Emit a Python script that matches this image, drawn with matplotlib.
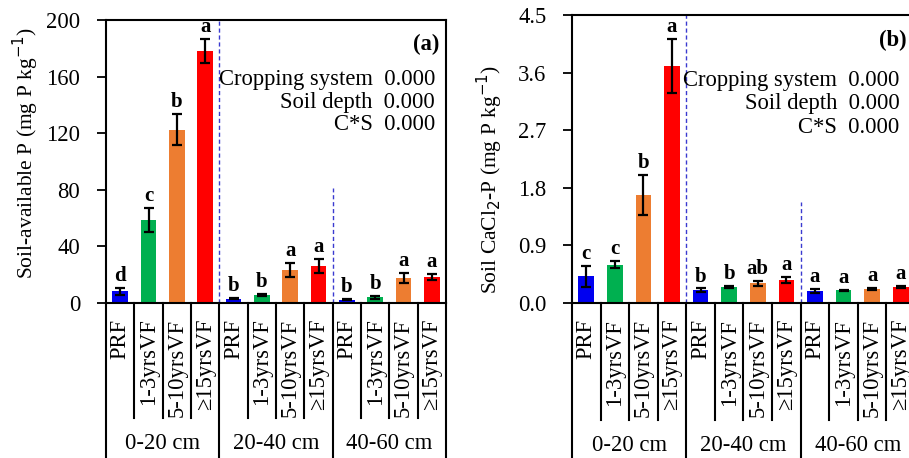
import matplotlib.pyplot as plt
import numpy as np

plt.rcParams['font.family'] = ['Liberation Serif', 'DejaVu Serif']

cultivars = ['PRF', '1-3yrsVF', '5-10yrsVF', '≥15yrsVF']
depths = ['0-20 cm', '20-40 cm', '40-60 cm']
bar_colors = ['#0000F0', '#00B050', '#ED7D31', '#FF0000']

# panel (a): soil-available P
avail_p = [8.2, 58.4, 122.4, 178.0,
           3.0, 5.6, 23.5, 25.9,
           2.4, 4.0, 17.6, 18.4]
avail_p_err = [2.2, 8.4, 11.0, 8.6,
               0.5, 1.0, 5.0, 5.0,
               0.5, 1.0, 3.6, 2.0]
avail_p_letters = ['d', 'c', 'b', 'a', 'b', 'b', 'a', 'a', 'b', 'b', 'a', 'a']

# panel (b): CaCl2-P
cacl2_p = [0.415, 0.60, 1.69, 3.705,
           0.197, 0.25, 0.31, 0.36,
           0.19, 0.197, 0.218, 0.25]
cacl2_p_err = [0.165, 0.06, 0.31, 0.42,
               0.03, 0.01, 0.04, 0.04,
               0.03, 0.01, 0.02, 0.02]
cacl2_p_letters = ['c', 'c', 'b', 'a', 'b', 'b', 'ab', 'a', 'a', 'a', 'a', 'a']

stats_names = ['Cropping system', 'Soil depth', 'C*S']
stats_p = ['0.000', '0.000', '0.000']

FS = 16.3


def panel(ax, vals, errs, letters, ymax, yticks, ylabel, tag, dash2_top, letter_pad,
          tag_pos, stats_x, stats_y0, ylab_xy):
    x = np.arange(len(vals))
    cols = bar_colors * len(depths)
    ax.bar(x, vals, width=0.55, color=cols, zorder=2)
    ax.errorbar(x, vals, yerr=errs, fmt='none', ecolor='black', elinewidth=1.6,
                capsize=3.5, capthick=1.6, zorder=3)
    for xi, v, e, l in zip(x, vals, errs, letters):
        ax.text(xi, v + e + letter_pad, l, ha='center', va='bottom',
                fontsize=15, fontweight='bold')

    ax.set_xlim(-0.5, len(vals) - 0.5)
    ax.set_ylim(0, ymax)
    ax.set_yticks(yticks)
    ax.set_yticklabels(['%g' % t if ymax > 10 else '%.1f' % t for t in yticks])
    ax.set_xticks([])
    ax.tick_params(axis='y', direction='out', length=6.5, width=1.3, labelsize=FS, pad=12)
    for s in ax.spines.values():
        s.set_linewidth(1.5)
    ax.set_ylabel(ylabel, fontsize=15.5)
    ax.yaxis.set_label_coords(*ylab_xy)

    # dashed separators between depths
    ax.axvline(3.5, color='#3a3ad0', lw=1, ls=(0, (3, 2)), zorder=1)
    ax.plot([7.5, 7.5], [0, dash2_top], color='#3a3ad0', lw=1, ls=(0, (3, 2)), zorder=1)

    # category labels under the axis
    tr = ax.get_xaxis_transform()
    for i in range(len(vals)):
        ax.text(i, -0.055, cultivars[i % 4], rotation=90, ha='center', va='top',
                fontsize=FS, transform=tr)
        if i % 4 != 0:
            ax.plot([i - 0.5, i - 0.5], [0, -0.405], color='black', lw=1.5,
                    transform=tr, clip_on=False)
    for g in range(len(depths) + 1):
        ax.plot([4 * g - 0.5, 4 * g - 0.5], [0, -0.7], color='black', lw=1.5,
                transform=tr, clip_on=False)
    for g, d in enumerate(depths):
        ax.text(4 * g + 1.5, -0.495, d, ha='center', va='center', fontsize=FS,
                transform=tr)

    ax.text(tag_pos[0], tag_pos[1], tag, transform=ax.transAxes, ha='right',
            va='center', fontsize=FS, fontweight='bold')
    for k, (n, p) in enumerate(zip(stats_names, stats_p)):
        ax.text(stats_x, stats_y0 - k * 0.08, n + '  ' + p, transform=ax.transAxes,
                ha='right', va='center', fontsize=FS)


fig = plt.figure(figsize=(9.09, 4.58), dpi=100)
W, H = 909, 458
ax1 = fig.add_axes([106 / W, 1 - 303 / H, 340 / W, 283 / H])
ax2 = fig.add_axes([572 / W, 1 - 303 / H, 343 / W, 288 / H])

panel(ax1, avail_p, avail_p_err, avail_p_letters, 200, [0, 40, 80, 120, 160, 200],
      'Soil-available P (mg P kg$^{-1}$)', '(a)', 81, 1.5,
      (0.98, 0.915), 0.968, 0.79, (-0.19, 0.53))
panel(ax2, cacl2_p, cacl2_p_err, cacl2_p_letters, 4.5, [0, 0.9, 1.8, 2.7, 3.6, 4.5],
      'Soil CaCl$_2$-P (mg P kg$^{-1}$)', '(b)', 1.58, 0.03,
      (0.977, 0.913), 0.955, 0.771, (-0.195, 0.43))

fig.savefig('out.png', dpi=100)
